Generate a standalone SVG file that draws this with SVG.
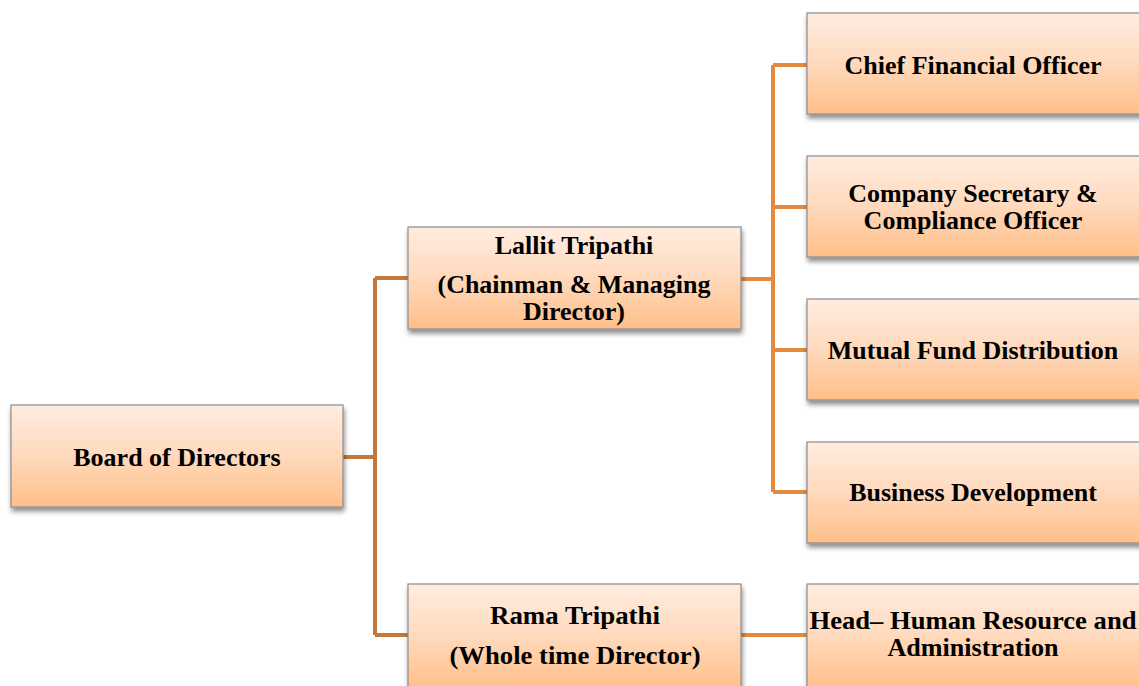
<svg xmlns="http://www.w3.org/2000/svg" width="1139" height="686" viewBox="0 0 1139 686">
<defs>
<linearGradient id="g" x1="0" y1="0" x2="0" y2="1">
<stop offset="0" stop-color="#FFEDE1"/>
<stop offset="0.5" stop-color="#FFD9BC"/>
<stop offset="1" stop-color="#FFBF88"/>
</linearGradient>
<filter id="sh" x="-10%" y="-10%" width="130%" height="140%">
<feGaussianBlur in="SourceAlpha" stdDeviation="2.5"/>
<feOffset dx="1" dy="4" result="b"/>
<feComponentTransfer><feFuncA type="linear" slope="0.45"/></feComponentTransfer>
<feMerge><feMergeNode/><feMergeNode in="SourceGraphic"/></feMerge>
</filter>
</defs>
<style>
.box{fill:url(#g);stroke:#8C8C8C;stroke-width:1.2;filter:url(#sh)}
.t{font-family:"Liberation Serif","Times New Roman",serif;font-weight:bold;font-size:26px;fill:#000;text-anchor:middle}
.c1{fill:none;stroke:#C4773A;stroke-width:4}
.c2{fill:none;stroke:#E38A3F;stroke-width:4}
</style>
<g id="connectors">
<path class="c1" d="M343 457H375M375 278V635M375 278H408M375 635H408"/>
<path class="c2" d="M741 279H773M773 65V492M773 65H807M773 207H807M773 350H807M773 492H807"/>
<path class="c2" d="M741 635H807"/>
</g>
<g id="board"><rect class="box" x="11" y="405" width="332" height="102"/><text class="t" x="177" y="466">Board of Directors</text></g>
<g id="lallit"><rect class="box" x="408" y="227" width="333" height="102"/><text class="t" x="574" y="254">Lallit Tripathi</text><text class="t" x="574" y="293">(Chainman &amp; Managing</text><text class="t" x="574" y="320">Director)</text></g>
<g id="rama"><rect class="box" x="408" y="584" width="333" height="106"/><text class="t" x="575" y="624" font-size="28" textLength="170" lengthAdjust="spacingAndGlyphs">Rama Tripathi</text><text class="t" x="575" y="664" font-size="28" textLength="251" lengthAdjust="spacingAndGlyphs">(Whole time Director)</text></g>
<g id="cfo"><rect class="box" x="807" y="13" width="336" height="101"/><text class="t" x="973" y="74">Chief Financial Officer</text></g>
<g id="cs"><rect class="box" x="807" y="156" width="336" height="101"/><text class="t" x="973" y="202">Company Secretary &amp;</text><text class="t" x="973" y="229">Compliance Officer</text></g>
<g id="mf"><rect class="box" x="807" y="299" width="336" height="101"/><text class="t" x="973" y="359">Mutual Fund Distribution</text></g>
<g id="bd"><rect class="box" x="807" y="442" width="336" height="101"/><text class="t" x="973" y="501">Business Development</text></g>
<g id="hr"><rect class="box" x="807" y="584" width="336" height="106"/><text class="t" x="973" y="629" font-size="28" textLength="327" lengthAdjust="spacingAndGlyphs">Head– Human Resource and</text><text class="t" x="973" y="656" font-size="28" textLength="171" lengthAdjust="spacingAndGlyphs">Administration</text></g>
</svg>
